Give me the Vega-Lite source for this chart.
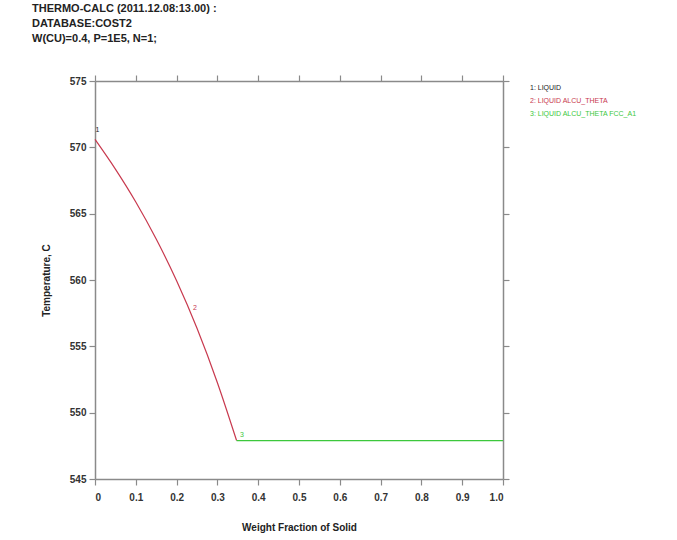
{
  "$schema": "https://vega.github.io/schema/vega-lite/v6.json",
  "autosize": "none",
  "width": 408,
  "height": 398,
  "padding": {"left": 95, "top": 81, "right": 174, "bottom": 61},
  "background": "white",
  "title": {
    "text": ["THERMO-CALC (2011.12.08:13.00) :", "DATABASE:COST2", "W(CU)=0.4, P=1E5, N=1;"],
    "anchor": "start",
    "frame": "group",
    "dx": -63,
    "offset": 30,
    "font": "Liberation Sans",
    "fontSize": 11,
    "fontWeight": "bold",
    "lineHeight": 15,
    "color": "#222"
  },
  "datasets": {
    "curves": [
      {"series": "2: LIQUID ALCU_THETA", "x": 0.0, "T": 570.6},
      {"series": "2: LIQUID ALCU_THETA", "x": 0.05, "T": 568.36},
      {"series": "2: LIQUID ALCU_THETA", "x": 0.1, "T": 565.88},
      {"series": "2: LIQUID ALCU_THETA", "x": 0.15, "T": 563.09},
      {"series": "2: LIQUID ALCU_THETA", "x": 0.2, "T": 559.94},
      {"series": "2: LIQUID ALCU_THETA", "x": 0.25, "T": 556.36},
      {"series": "2: LIQUID ALCU_THETA", "x": 0.3, "T": 552.26},
      {"series": "2: LIQUID ALCU_THETA", "x": 0.347, "T": 547.9},
      {"series": "3: LIQUID ALCU_THETA FCC_A1", "x": 0.347, "T": 547.9},
      {"series": "3: LIQUID ALCU_THETA FCC_A1", "x": 1.0, "T": 547.9}
    ],
    "labels": [
      {"series": "1: LIQUID", "lab": "1", "x": 0.006, "T": 571.3},
      {"series": "2: LIQUID ALCU_THETA", "lab": "2", "x": 0.245, "T": 557.9},
      {"series": "3: LIQUID ALCU_THETA FCC_A1", "lab": "3", "x": 0.36, "T": 548.3}
    ]
  },
  "layer": [
    {
      "data": {"name": "curves"},
      "mark": {"type": "line", "strokeWidth": 1.2, "interpolate": "monotone"},
      "encoding": {
        "x": {"field": "x", "type": "quantitative", "scale": {"domain": [0, 1], "nice": false},
          "axis": {"orient": "bottom", "title": "Weight Fraction of Solid", "values": [0,0.1,0.2,0.3,0.4,0.5,0.6,0.7,0.8,0.9,1.0],
            "labelExpr": "datum.value == 0 ? '0' : format(datum.value, '.1f')", "grid": false, "labelPadding": 7, "titlePadding": 20}},
        "y": {"field": "T", "type": "quantitative", "scale": {"domain": [545, 575], "nice": false, "zero": false},
          "axis": {"orient": "left", "title": "Temperature, C", "values": [545,550,555,560,565,570,575], "grid": false, "titlePadding": 18}},
        "color": {"field": "series", "type": "nominal",
          "scale": {"domain": ["1: LIQUID", "2: LIQUID ALCU_THETA", "3: LIQUID ALCU_THETA FCC_A1"], "range": ["#222222", "#c8394e", "#3cc83c"]},
          "legend": {"orient": "none", "legendX": 428, "legendY": 3, "title": null, "symbolSize": 0, "symbolStrokeWidth": 0, "symbolOpacity": 0,
            "labelFont": "Liberation Sans", "labelFontSize": 7, "labelOffset": 0, "rowPadding": 5, "labelLimit": 300,
            "encode": {"labels": {"update": {"fill": {"scale": "color", "field": "value"}}}}}}
      }
    },
    {
      "data": {"name": "labels"},
      "mark": {"type": "text", "font": "Liberation Sans", "fontSize": 7, "align": "center"},
      "encoding": {
        "x": {"field": "x", "type": "quantitative", "axis": {"orient": "top", "title": null, "labels": false, "values": [0,0.1,0.2,0.3,0.4,0.5,0.6,0.7,0.8,0.9,1.0], "grid": false}},
        "y": {"field": "T", "type": "quantitative", "axis": {"orient": "right", "title": null, "labels": false, "values": [545,550,555,560,565,570,575], "grid": false}},
        "text": {"field": "lab"},
        "color": {"field": "series", "type": "nominal"}
      }
    }
  ],
  "resolve": {"axis": {"x": "independent", "y": "independent"}},
  "config": {
    "view": {"stroke": null},
    "axis": {
      "domainColor": "#8a8a8a", "domainWidth": 1.5, "tickColor": "#8a8a8a", "tickWidth": 1.2, "tickSize": 6,
      "labelFont": "Liberation Sans", "labelFontSize": 10, "labelFontWeight": "bold", "labelColor": "#333",
      "titleFont": "Liberation Sans", "titleFontSize": 10, "titleFontWeight": "bold", "titleColor": "#222",
      "labelPadding": 3
    }
  }
}
